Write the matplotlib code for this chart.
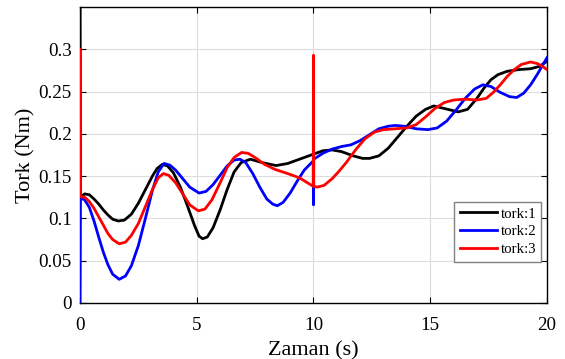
import numpy as np
import matplotlib
matplotlib.use("Agg")
import matplotlib.pyplot as plt

# ---------------------------------------------------------------------------
# Data
# ---------------------------------------------------------------------------

t1 = [0.0, 0.02, 0.2, 0.4, 0.6, 0.8, 1.0, 1.2, 1.4, 1.64, 1.9, 2.2, 2.5,
      2.8, 3.1, 3.3, 3.53, 3.75, 4.0, 4.3, 4.6, 4.9, 5.1, 5.25, 5.45, 5.7,
      6.0, 6.3, 6.6, 6.9, 7.3, 7.8, 8.4, 8.9, 9.4, 10.0, 10.4, 10.8, 11.2,
      11.7, 12.1, 12.4, 12.8, 13.2, 13.6, 14.0, 14.4, 14.8, 15.15, 15.6,
      16.2, 16.6, 17.0, 17.3, 17.6, 17.9, 18.3, 18.8, 19.3, 19.7, 20.0]
tork1 = [0.40, 0.125, 0.129, 0.128, 0.123, 0.117, 0.110, 0.104, 0.099,
         0.097, 0.098, 0.105, 0.118, 0.134, 0.150, 0.159, 0.164, 0.162,
         0.154, 0.137, 0.115, 0.092, 0.079, 0.076, 0.078, 0.089, 0.110,
         0.134, 0.155, 0.166, 0.170, 0.166, 0.1625, 0.165, 0.170, 0.176,
         0.180, 0.181, 0.179, 0.174, 0.171, 0.171, 0.174, 0.183, 0.196,
         0.209, 0.221, 0.229, 0.233, 0.230, 0.226, 0.229, 0.242, 0.254,
         0.264, 0.270, 0.274, 0.276, 0.277, 0.280, 0.286]

t2 = [0.0, 0.02, 0.2, 0.4, 0.6, 0.8, 1.0, 1.2, 1.4, 1.68, 1.95, 2.2, 2.5,
      2.8, 3.1, 3.35, 3.6, 3.85, 4.1, 4.4, 4.7, 5.1, 5.4, 5.7, 6.0, 6.3,
      6.6, 6.85, 7.1, 7.4, 7.7, 8.0, 8.25, 8.45, 8.7, 9.0, 9.3, 9.6, 9.99,
      10.0, 10.01, 10.4, 10.8, 11.2, 11.6, 12.0, 12.4, 12.8, 13.2, 13.5,
      13.9, 14.4, 14.9, 15.3, 15.7, 16.1, 16.5, 16.9, 17.25, 17.6, 18.0,
      18.4, 18.7, 19.0, 19.3, 19.6, 19.85, 20.0]
tork2 = [0.0, 0.124, 0.122, 0.113, 0.097, 0.078, 0.060, 0.045, 0.034,
         0.028, 0.032, 0.044, 0.068, 0.100, 0.133, 0.155, 0.165, 0.163,
         0.157, 0.147, 0.137, 0.130, 0.132, 0.140, 0.151, 0.162, 0.169,
         0.170, 0.166, 0.153, 0.137, 0.123, 0.117, 0.115, 0.119, 0.130,
         0.144, 0.157, 0.168, 0.116, 0.170, 0.177, 0.182, 0.185, 0.187,
         0.192, 0.199, 0.206, 0.209, 0.210, 0.209, 0.206, 0.205, 0.207,
         0.215, 0.228, 0.242, 0.253, 0.258, 0.256, 0.249, 0.244, 0.243,
         0.248, 0.258, 0.271, 0.283, 0.290]

t3 = [0.0, 0.02, 0.2, 0.4, 0.6, 0.8, 1.0, 1.2, 1.4, 1.68, 1.95, 2.2, 2.5,
      2.8, 3.1, 3.35, 3.57, 3.8, 4.1, 4.4, 4.7, 5.07, 5.35, 5.65, 6.0,
      6.3, 6.6, 6.92, 7.2, 7.5, 7.9, 8.35, 8.9, 9.4, 9.75, 9.99, 10.0,
      10.01, 10.15, 10.45, 10.8, 11.1, 11.4, 11.8, 12.2, 12.6, 13.0, 13.5,
      14.0, 14.4, 14.8, 15.2, 15.6, 16.0, 16.5, 17.0, 17.4, 17.7, 18.0,
      18.3, 18.6, 18.9, 19.3, 19.6, 19.85, 20.0]
tork3 = [0.30, 0.126, 0.125, 0.120, 0.112, 0.102, 0.092, 0.082, 0.075,
         0.070, 0.072, 0.080, 0.094, 0.114, 0.134, 0.148, 0.153, 0.151,
         0.142, 0.129, 0.116, 0.109, 0.111, 0.122, 0.142, 0.160, 0.172,
         0.178, 0.177, 0.172, 0.164, 0.158, 0.153, 0.148, 0.142, 0.138,
         0.293, 0.138, 0.137, 0.139, 0.147, 0.156, 0.166, 0.181, 0.194,
         0.202, 0.205, 0.206, 0.207, 0.211, 0.220, 0.230, 0.237, 0.240,
         0.241, 0.240, 0.242, 0.249, 0.258, 0.268, 0.276, 0.282, 0.285,
         0.283, 0.279, 0.276]

series_labels = ["tork:1", "tork:2", "tork:3"]
series_colors = ["black", "blue", "red"]

x_ticks = [0, 5, 10, 15, 20]
y_ticks = [0, 0.05, 0.1, 0.15, 0.2, 0.25, 0.3]
y_tick_labels = ["0", "0.05", "0.1", "0.15", "0.2", "0.25", "0.3"]

# ---------------------------------------------------------------------------
# Plot
# ---------------------------------------------------------------------------

plt.rcParams["font.family"] = ["Liberation Serif", "DejaVu Serif"]

fig = plt.figure(figsize=(5.65, 3.59), dpi=100)
ax = fig.add_axes([0.1416, 0.156, 0.8265, 0.8245])

# lines sit above the spines so the spikes at t=0 show over the left edge
for t, v, lab, col in zip([t1, t2, t3], [tork1, tork2, tork3],
                          series_labels, series_colors):
    ax.plot(t, v, color=col, lw=2.0, label=lab, zorder=3,
            solid_joinstyle="round")

ax.set_xlim(0, 20)
ax.set_ylim(0, 0.35)
ax.set_xticks(x_ticks)
ax.set_yticks(y_ticks)
ax.set_yticklabels(y_tick_labels)
ax.tick_params(direction="in", top=True, right=True, labelsize=13.7,
               length=4, width=0.8)
ax.tick_params(axis="y", pad=6)
ax.tick_params(axis="x", pad=10)
ax.grid(True, color="#dcdcdc", lw=0.8)
ax.set_axisbelow(True)
for s in ax.spines.values():
    s.set_linewidth(1.0)

ax.set_xlabel("Zaman (s)", fontsize=16, labelpad=5)
ax.set_ylabel("Tork (Nm)", fontsize=16, labelpad=2)

leg = ax.legend(loc="lower right", bbox_to_anchor=(0.988, 0.14),
                fontsize=10.7, fancybox=False, framealpha=1,
                edgecolor="#808080", handlelength=2.55, handletextpad=0.2,
                borderpad=0.35, labelspacing=0.3, borderaxespad=0)
leg.get_frame().set_linewidth(1.0)
leg.set_zorder(4)

fig.savefig("out.png", dpi=100)
